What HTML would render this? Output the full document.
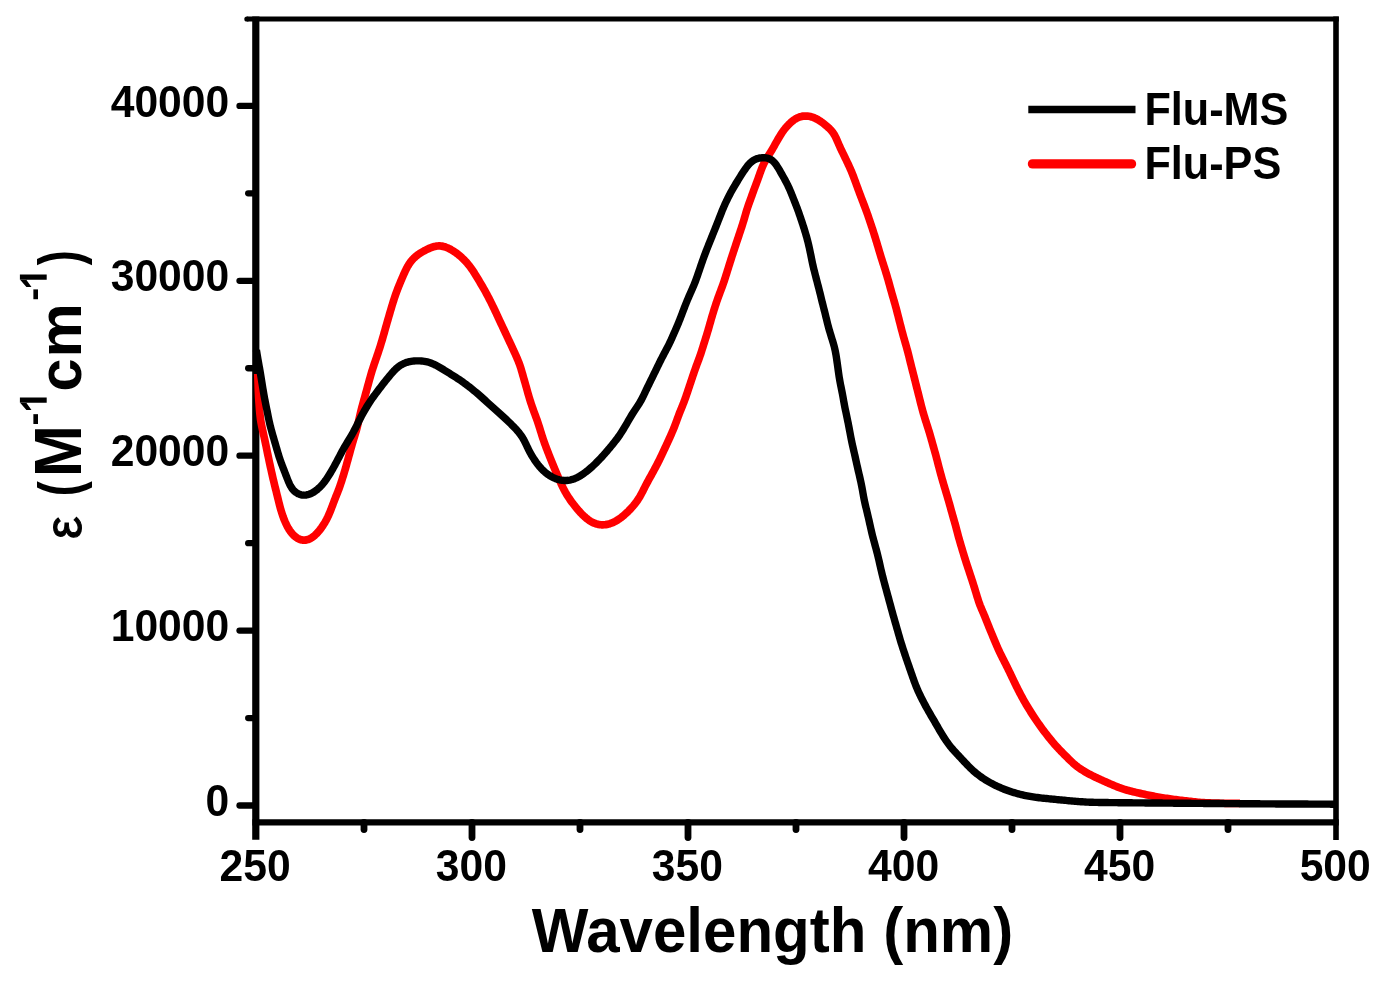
<!DOCTYPE html>
<html><head><meta charset="utf-8"><style>
html,body{margin:0;padding:0;background:#fff;width:1382px;height:987px;overflow:hidden}
svg{display:block;filter:blur(0.45px)}
text{font-family:"Liberation Sans",sans-serif;font-weight:bold;fill:#000}
</style></head><body>
<svg width="1382" height="987" viewBox="0 0 1382 987">
<rect width="1382" height="987" fill="#fff"/>
<g stroke="#000" stroke-linecap="butt" stroke-width="6.8">
<line x1="246.9" y1="19" x2="1338.8" y2="19" stroke-width="5.2"/>
<circle cx="246.9" cy="19" r="2.6" fill="#000" stroke="none"/>
<line x1="255.8" y1="16.4" x2="255.8" y2="839.8" stroke-width="7.2"/>
<line x1="1336" y1="16.4" x2="1336" y2="840" stroke-width="5.6"/>
<line x1="252.4" y1="822.4" x2="1338.8" y2="822.4" stroke-width="6.4"/>
<line x1="364.0" y1="822.4" x2="364.0" y2="829.5" stroke-linecap="round"/>
<line x1="472.0" y1="822.4" x2="472.0" y2="837.6" stroke-linecap="round"/>
<line x1="580.0" y1="822.4" x2="580.0" y2="829.5" stroke-linecap="round"/>
<line x1="688.0" y1="822.4" x2="688.0" y2="837.6" stroke-linecap="round"/>
<line x1="796.0" y1="822.4" x2="796.0" y2="829.5" stroke-linecap="round"/>
<line x1="904.0" y1="822.4" x2="904.0" y2="837.6" stroke-linecap="round"/>
<line x1="1012.0" y1="822.4" x2="1012.0" y2="829.5" stroke-linecap="round"/>
<line x1="1120.0" y1="822.4" x2="1120.0" y2="837.6" stroke-linecap="round"/>
<line x1="1228.0" y1="822.4" x2="1228.0" y2="829.5" stroke-linecap="round"/>
<line x1="255.8" y1="805.50" x2="239.5" y2="805.50" stroke-linecap="round" stroke-width="6.3"/>
<line x1="255.8" y1="718.05" x2="248.2" y2="718.05" stroke-linecap="round" stroke-width="6.3"/>
<line x1="255.8" y1="630.60" x2="239.5" y2="630.60" stroke-linecap="round" stroke-width="6.3"/>
<line x1="255.8" y1="543.15" x2="248.2" y2="543.15" stroke-linecap="round" stroke-width="6.3"/>
<line x1="255.8" y1="455.70" x2="239.5" y2="455.70" stroke-linecap="round" stroke-width="6.3"/>
<line x1="255.8" y1="368.25" x2="248.2" y2="368.25" stroke-linecap="round" stroke-width="6.3"/>
<line x1="255.8" y1="280.80" x2="239.5" y2="280.80" stroke-linecap="round" stroke-width="6.3"/>
<line x1="255.8" y1="193.35" x2="248.2" y2="193.35" stroke-linecap="round" stroke-width="6.3"/>
<line x1="255.8" y1="105.90" x2="239.5" y2="105.90" stroke-linecap="round" stroke-width="6.3"/>
</g>
<path d="M257.80,374.00 L257.90,377.20 L257.93,378.17 L257.97,379.27 L258.01,380.49 L258.05,381.79 L258.09,383.17 L258.14,384.59 L258.19,386.04 L258.24,387.52 L258.29,389.00 L258.35,390.50 L258.41,391.99 L258.48,393.49 L258.55,394.99 L258.63,396.48 L258.71,397.98 L258.81,399.48 L258.90,400.97 L259.00,402.47 L259.11,403.97 L259.22,405.46 L259.33,406.96 L259.44,408.45 L259.56,409.95 L259.69,411.44 L259.82,412.93 L259.97,414.42 L260.13,415.91 L260.30,417.40 L260.50,418.88 L260.71,420.36 L260.95,421.84 L261.21,423.31 L261.49,424.78 L261.78,426.25 L262.09,427.72 L262.40,429.19 L262.72,430.65 L263.05,432.11 L263.37,433.58 L263.70,435.04 L264.02,436.51 L264.34,437.97 L264.66,439.44 L264.97,440.90 L265.29,442.37 L265.60,443.84 L265.90,445.31 L266.21,446.78 L266.51,448.25 L266.81,449.72 L267.11,451.18 L267.41,452.65 L267.71,454.12 L268.02,455.59 L268.32,457.06 L268.63,458.53 L268.94,460.00 L269.25,461.46 L269.56,462.93 L269.88,464.40 L270.20,465.86 L270.52,467.33 L270.84,468.79 L271.17,470.26 L271.49,471.72 L271.82,473.19 L272.15,474.65 L272.48,476.11 L272.82,477.57 L273.16,479.03 L273.50,480.49 L273.85,481.95 L274.21,483.41 L274.56,484.87 L274.92,486.32 L275.28,487.78 L275.65,489.23 L276.01,490.69 L276.37,492.14 L276.73,493.60 L277.09,495.06 L277.45,496.51 L277.81,497.97 L278.16,499.43 L278.52,500.88 L278.88,502.34 L279.24,503.79 L279.61,505.25 L280.00,506.69 L280.39,508.14 L280.80,509.58 L281.22,511.02 L281.66,512.45 L282.12,513.88 L282.60,515.29 L283.09,516.71 L283.61,518.11 L284.15,519.50 L284.72,520.88 L285.31,522.25 L285.94,523.61 L286.58,524.95 L287.26,526.28 L287.97,527.58 L288.72,528.86 L289.50,530.12 L290.33,531.34 L291.21,532.51 L292.13,533.64 L293.11,534.72 L294.14,535.73 L295.23,536.67 L296.36,537.53 L297.54,538.28 L298.77,538.93 L300.03,539.45 L301.32,539.84 L302.64,540.08 L303.97,540.17 L305.30,540.11 L306.62,539.90 L307.93,539.54 L309.21,539.05 L310.47,538.44 L311.69,537.72 L312.86,536.92 L314.00,536.03 L315.10,535.07 L316.17,534.06 L317.19,533.00 L318.18,531.89 L319.13,530.76 L320.06,529.59 L320.95,528.40 L321.82,527.19 L322.66,525.96 L323.48,524.71 L324.27,523.45 L325.04,522.17 L325.78,520.87 L326.49,519.56 L327.16,518.23 L327.82,516.89 L328.44,515.53 L329.05,514.17 L329.64,512.79 L330.21,511.41 L330.76,510.01 L331.31,508.62 L331.85,507.22 L332.38,505.82 L332.90,504.41 L333.43,503.01 L333.96,501.61 L334.49,500.21 L335.03,498.81 L335.58,497.42 L336.13,496.02 L336.69,494.63 L337.25,493.24 L337.80,491.85 L338.34,490.45 L338.87,489.05 L339.39,487.65 L339.89,486.24 L340.38,484.82 L340.85,483.40 L341.32,481.97 L341.77,480.55 L342.22,479.12 L342.67,477.69 L343.12,476.25 L343.56,474.82 L344.00,473.39 L344.43,471.95 L344.86,470.51 L345.28,469.07 L345.69,467.63 L346.10,466.19 L346.50,464.75 L346.90,463.30 L347.30,461.85 L347.70,460.41 L348.09,458.96 L348.49,457.51 L348.88,456.07 L349.28,454.62 L349.68,453.17 L350.08,451.73 L350.48,450.28 L350.88,448.84 L351.29,447.39 L351.69,445.95 L352.11,444.51 L352.52,443.07 L352.95,441.63 L353.38,440.19 L353.81,438.76 L354.25,437.33 L354.69,435.89 L355.13,434.46 L355.56,433.02 L355.98,431.59 L356.39,430.15 L356.79,428.70 L357.16,427.25 L357.53,425.80 L357.88,424.34 L358.22,422.88 L358.55,421.42 L358.88,419.96 L359.20,418.50 L359.53,417.03 L359.87,415.57 L360.21,414.11 L360.56,412.66 L360.92,411.20 L361.28,409.75 L361.66,408.29 L362.04,406.84 L362.42,405.39 L362.81,403.94 L363.21,402.50 L363.60,401.05 L364.00,399.61 L364.40,398.16 L364.81,396.72 L365.21,395.27 L365.61,393.82 L366.01,392.38 L366.41,390.93 L366.81,389.49 L367.21,388.04 L367.60,386.59 L368.00,385.15 L368.39,383.70 L368.79,382.25 L369.19,380.81 L369.58,379.36 L369.98,377.92 L370.39,376.47 L370.80,375.03 L371.22,373.59 L371.64,372.15 L372.08,370.72 L372.53,369.29 L372.99,367.86 L373.45,366.44 L373.93,365.01 L374.41,363.59 L374.89,362.17 L375.38,360.76 L375.87,359.34 L376.36,357.92 L376.85,356.50 L377.33,355.08 L377.81,353.66 L378.29,352.24 L378.76,350.82 L379.23,349.39 L379.69,347.96 L380.14,346.54 L380.59,345.10 L381.03,343.67 L381.47,342.23 L381.90,340.80 L382.32,339.36 L382.74,337.92 L383.15,336.48 L383.57,335.04 L383.98,333.59 L384.38,332.15 L384.79,330.71 L385.20,329.26 L385.60,327.82 L386.01,326.37 L386.42,324.93 L386.83,323.49 L387.24,322.05 L387.66,320.60 L388.07,319.16 L388.49,317.72 L388.91,316.28 L389.32,314.84 L389.74,313.40 L390.17,311.96 L390.59,310.52 L391.01,309.08 L391.44,307.65 L391.87,306.21 L392.30,304.77 L392.74,303.34 L393.18,301.90 L393.63,300.47 L394.08,299.05 L394.55,297.62 L395.03,296.20 L395.52,294.78 L396.02,293.37 L396.53,291.96 L397.06,290.56 L397.59,289.16 L398.14,287.76 L398.69,286.37 L399.25,284.98 L399.82,283.59 L400.39,282.21 L400.97,280.82 L401.56,279.44 L402.15,278.06 L402.74,276.69 L403.34,275.31 L403.95,273.94 L404.57,272.58 L405.20,271.22 L405.85,269.87 L406.51,268.54 L407.20,267.22 L407.93,265.93 L408.69,264.66 L409.50,263.43 L410.35,262.22 L411.25,261.06 L412.20,259.93 L413.19,258.85 L414.23,257.81 L415.32,256.81 L416.45,255.86 L417.61,254.96 L418.81,254.09 L420.04,253.27 L421.30,252.48 L422.58,251.73 L423.88,251.00 L425.20,250.30 L426.53,249.63 L427.87,248.98 L429.22,248.37 L430.58,247.80 L431.95,247.27 L433.32,246.82 L434.70,246.44 L436.09,246.16 L437.49,245.98 L438.88,245.92 L440.29,245.97 L441.68,246.13 L443.08,246.40 L444.46,246.76 L445.83,247.22 L447.19,247.75 L448.53,248.35 L449.85,249.00 L451.15,249.71 L452.43,250.46 L453.69,251.25 L454.93,252.08 L456.15,252.94 L457.34,253.83 L458.51,254.75 L459.66,255.70 L460.79,256.68 L461.90,257.68 L462.98,258.70 L464.04,259.75 L465.08,260.83 L466.10,261.92 L467.09,263.04 L468.05,264.17 L469.00,265.33 L469.91,266.51 L470.80,267.71 L471.66,268.92 L472.51,270.16 L473.33,271.40 L474.14,272.66 L474.94,273.93 L475.72,275.21 L476.50,276.49 L477.28,277.77 L478.06,279.05 L478.83,280.34 L479.60,281.62 L480.37,282.91 L481.13,284.20 L481.89,285.50 L482.64,286.79 L483.39,288.09 L484.13,289.39 L484.87,290.70 L485.59,292.02 L486.31,293.33 L487.01,294.65 L487.72,295.98 L488.41,297.31 L489.10,298.64 L489.78,299.98 L490.46,301.31 L491.13,302.65 L491.80,304.00 L492.46,305.34 L493.12,306.69 L493.77,308.04 L494.42,309.39 L495.06,310.75 L495.70,312.11 L496.33,313.47 L496.96,314.83 L497.60,316.19 L498.23,317.55 L498.86,318.91 L499.50,320.27 L500.13,321.63 L500.77,322.98 L501.40,324.34 L502.04,325.70 L502.68,327.06 L503.31,328.42 L503.95,329.77 L504.59,331.13 L505.23,332.49 L505.86,333.85 L506.50,335.21 L507.13,336.57 L507.77,337.92 L508.41,339.28 L509.04,340.64 L509.68,342.00 L510.32,343.36 L510.95,344.72 L511.59,346.07 L512.22,347.43 L512.85,348.79 L513.48,350.15 L514.11,351.52 L514.73,352.88 L515.35,354.25 L515.96,355.62 L516.56,356.99 L517.15,358.37 L517.73,359.75 L518.29,361.14 L518.84,362.53 L519.37,363.93 L519.87,365.33 L520.36,366.75 L520.82,368.17 L521.25,369.60 L521.68,371.03 L522.09,372.47 L522.50,373.91 L522.90,375.35 L523.31,376.79 L523.72,378.23 L524.13,379.67 L524.55,381.11 L524.96,382.56 L525.38,384.00 L525.79,385.44 L526.20,386.88 L526.60,388.32 L527.01,389.77 L527.41,391.21 L527.81,392.66 L528.22,394.10 L528.63,395.54 L529.05,396.98 L529.48,398.42 L529.92,399.85 L530.37,401.28 L530.83,402.71 L531.30,404.13 L531.78,405.55 L532.27,406.97 L532.76,408.38 L533.27,409.80 L533.78,411.21 L534.30,412.61 L534.82,414.02 L535.34,415.42 L535.86,416.83 L536.38,418.24 L536.89,419.65 L537.38,421.06 L537.87,422.48 L538.35,423.90 L538.81,425.32 L539.26,426.75 L539.70,428.18 L540.14,429.62 L540.58,431.05 L541.02,432.48 L541.47,433.91 L541.92,435.34 L542.38,436.77 L542.85,438.19 L543.33,439.61 L543.82,441.03 L544.31,442.45 L544.81,443.86 L545.33,445.27 L545.85,446.68 L546.37,448.08 L546.90,449.48 L547.44,450.88 L547.99,452.28 L548.54,453.68 L549.09,455.07 L549.64,456.46 L550.20,457.86 L550.76,459.25 L551.32,460.64 L551.88,462.03 L552.45,463.42 L553.01,464.81 L553.58,466.20 L554.15,467.58 L554.73,468.97 L555.31,470.35 L555.89,471.73 L556.48,473.11 L557.07,474.49 L557.67,475.87 L558.27,477.24 L558.87,478.62 L559.47,479.99 L560.08,481.36 L560.69,482.73 L561.31,484.10 L561.93,485.45 L562.57,486.81 L563.23,488.15 L563.91,489.48 L564.61,490.80 L565.33,492.11 L566.08,493.40 L566.85,494.68 L567.64,495.95 L568.45,497.21 L569.28,498.46 L570.13,499.69 L570.99,500.92 L571.86,502.13 L572.75,503.33 L573.66,504.53 L574.58,505.71 L575.52,506.88 L576.46,508.04 L577.43,509.18 L578.40,510.32 L579.40,511.43 L580.41,512.54 L581.43,513.62 L582.48,514.68 L583.55,515.72 L584.64,516.74 L585.75,517.72 L586.89,518.67 L588.06,519.57 L589.25,520.43 L590.47,521.23 L591.73,521.97 L593.01,522.63 L594.33,523.22 L595.68,523.72 L597.06,524.12 L598.46,524.44 L599.87,524.66 L601.30,524.79 L602.74,524.82 L604.18,524.76 L605.62,524.61 L607.05,524.38 L608.46,524.06 L609.86,523.67 L611.25,523.20 L612.60,522.66 L613.94,522.05 L615.25,521.39 L616.53,520.66 L617.79,519.89 L619.02,519.07 L620.24,518.21 L621.43,517.31 L622.59,516.39 L623.74,515.43 L624.87,514.45 L625.98,513.45 L627.07,512.43 L628.14,511.39 L629.19,510.32 L630.22,509.24 L631.24,508.14 L632.23,507.03 L633.21,505.90 L634.16,504.75 L635.09,503.58 L636.00,502.39 L636.88,501.19 L637.73,499.96 L638.55,498.72 L639.34,497.45 L640.10,496.17 L640.83,494.87 L641.54,493.55 L642.24,492.23 L642.92,490.90 L643.59,489.56 L644.27,488.22 L644.94,486.88 L645.63,485.55 L646.32,484.22 L647.02,482.90 L647.73,481.57 L648.44,480.26 L649.17,478.94 L649.89,477.63 L650.62,476.32 L651.35,475.01 L652.07,473.70 L652.80,472.38 L653.52,471.07 L654.23,469.75 L654.94,468.43 L655.65,467.11 L656.35,465.78 L657.04,464.45 L657.73,463.12 L658.41,461.78 L659.08,460.44 L659.74,459.10 L660.40,457.75 L661.05,456.40 L661.70,455.04 L662.34,453.69 L662.97,452.33 L663.61,450.97 L664.24,449.61 L664.88,448.25 L665.51,446.89 L666.14,445.53 L666.77,444.17 L667.40,442.81 L668.03,441.45 L668.66,440.08 L669.28,438.72 L669.89,437.35 L670.51,435.98 L671.11,434.61 L671.71,433.24 L672.30,431.86 L672.89,430.48 L673.46,429.09 L674.02,427.70 L674.57,426.31 L675.11,424.91 L675.64,423.51 L676.16,422.10 L676.67,420.70 L677.19,419.29 L677.70,417.88 L678.22,416.48 L678.75,415.07 L679.28,413.68 L679.83,412.28 L680.39,410.89 L680.95,409.50 L681.52,408.11 L682.08,406.73 L682.64,405.34 L683.19,403.94 L683.74,402.55 L684.27,401.14 L684.79,399.74 L685.30,398.33 L685.80,396.92 L686.29,395.50 L686.78,394.08 L687.26,392.66 L687.74,391.24 L688.21,389.82 L688.69,388.39 L689.16,386.97 L689.63,385.55 L690.11,384.12 L690.58,382.70 L691.05,381.28 L691.53,379.86 L692.00,378.43 L692.48,377.01 L692.96,375.59 L693.44,374.17 L693.92,372.75 L694.41,371.33 L694.91,369.92 L695.41,368.50 L695.92,367.09 L696.43,365.68 L696.95,364.28 L697.47,362.87 L698.00,361.47 L698.52,360.06 L699.03,358.65 L699.54,357.24 L700.04,355.83 L700.52,354.41 L701.00,352.99 L701.46,351.57 L701.92,350.14 L702.37,348.71 L702.81,347.28 L703.26,345.85 L703.70,344.41 L704.15,342.98 L704.60,341.55 L705.06,340.12 L705.51,338.69 L705.96,337.26 L706.41,335.83 L706.85,334.40 L707.29,332.96 L707.71,331.53 L708.14,330.09 L708.55,328.65 L708.96,327.21 L709.37,325.76 L709.78,324.32 L710.19,322.88 L710.60,321.43 L711.01,319.99 L711.42,318.55 L711.84,317.11 L712.26,315.67 L712.69,314.23 L713.13,312.80 L713.56,311.36 L714.01,309.93 L714.46,308.50 L714.91,307.07 L715.38,305.65 L715.85,304.22 L716.32,302.80 L716.80,301.38 L717.29,299.96 L717.79,298.55 L718.30,297.14 L718.81,295.73 L719.33,294.32 L719.85,292.91 L720.38,291.51 L720.91,290.11 L721.43,288.70 L721.95,287.30 L722.47,285.89 L722.97,284.48 L723.47,283.06 L723.95,281.65 L724.43,280.22 L724.90,278.80 L725.36,277.37 L725.81,275.94 L726.26,274.51 L726.71,273.08 L727.16,271.65 L727.60,270.22 L728.05,268.78 L728.49,267.35 L728.94,265.92 L729.39,264.49 L729.83,263.06 L730.28,261.63 L730.74,260.20 L731.19,258.77 L731.65,257.34 L732.11,255.91 L732.58,254.49 L733.04,253.06 L733.51,251.64 L733.99,250.21 L734.46,248.79 L734.93,247.37 L735.41,245.94 L735.88,244.52 L736.36,243.10 L736.83,241.67 L737.30,240.25 L737.77,238.83 L738.25,237.40 L738.72,235.98 L739.19,234.56 L739.67,233.13 L740.14,231.71 L740.61,230.28 L741.08,228.86 L741.55,227.44 L742.01,226.01 L742.47,224.58 L742.92,223.15 L743.36,221.72 L743.79,220.28 L744.22,218.85 L744.64,217.41 L745.05,215.97 L745.47,214.53 L745.88,213.09 L746.31,211.65 L746.74,210.22 L747.19,208.79 L747.66,207.37 L748.13,205.95 L748.63,204.53 L749.13,203.12 L749.63,201.71 L750.15,200.30 L750.66,198.89 L751.17,197.48 L751.68,196.07 L752.18,194.66 L752.69,193.25 L753.20,191.84 L753.71,190.43 L754.23,189.03 L754.75,187.62 L755.27,186.22 L755.80,184.81 L756.33,183.41 L756.85,182.00 L757.37,180.60 L757.88,179.19 L758.39,177.78 L758.89,176.37 L759.39,174.95 L759.89,173.54 L760.40,172.13 L760.91,170.72 L761.44,169.32 L761.98,167.93 L762.55,166.55 L763.14,165.18 L763.76,163.83 L764.42,162.50 L765.11,161.18 L765.84,159.88 L766.59,158.59 L767.36,157.31 L768.14,156.04 L768.94,154.77 L769.73,153.50 L770.52,152.23 L771.30,150.95 L772.07,149.67 L772.83,148.38 L773.57,147.08 L774.31,145.77 L775.04,144.47 L775.77,143.16 L776.50,141.85 L777.24,140.54 L777.98,139.24 L778.73,137.95 L779.50,136.66 L780.28,135.38 L781.08,134.12 L781.90,132.88 L782.75,131.65 L783.62,130.44 L784.53,129.26 L785.46,128.10 L786.42,126.96 L787.42,125.85 L788.44,124.77 L789.49,123.72 L790.56,122.70 L791.67,121.73 L792.81,120.79 L793.99,119.92 L795.20,119.11 L796.44,118.38 L797.72,117.73 L799.04,117.18 L800.39,116.73 L801.77,116.39 L803.17,116.15 L804.58,116.03 L806.01,116.01 L807.44,116.09 L808.86,116.28 L810.28,116.56 L811.68,116.94 L813.06,117.39 L814.42,117.92 L815.75,118.53 L817.06,119.20 L818.34,119.93 L819.60,120.71 L820.84,121.53 L822.05,122.39 L823.25,123.28 L824.42,124.20 L825.58,125.14 L826.72,126.10 L827.83,127.08 L828.92,128.09 L829.96,129.13 L830.97,130.19 L831.92,131.30 L832.81,132.44 L833.63,133.62 L834.40,134.85 L835.10,136.12 L835.75,137.42 L836.37,138.75 L836.96,140.10 L837.54,141.46 L838.12,142.83 L838.71,144.20 L839.31,145.56 L839.93,146.92 L840.55,148.28 L841.19,149.63 L841.84,150.99 L842.49,152.34 L843.14,153.69 L843.80,155.04 L844.45,156.39 L845.10,157.74 L845.76,159.09 L846.41,160.44 L847.05,161.79 L847.70,163.15 L848.33,164.50 L848.97,165.86 L849.59,167.23 L850.20,168.59 L850.80,169.97 L851.38,171.35 L851.95,172.73 L852.51,174.12 L853.06,175.52 L853.59,176.92 L854.12,178.32 L854.64,179.73 L855.16,181.13 L855.68,182.54 L856.19,183.95 L856.71,185.36 L857.22,186.77 L857.74,188.18 L858.26,189.58 L858.78,190.99 L859.30,192.40 L859.82,193.80 L860.35,195.21 L860.88,196.61 L861.41,198.01 L861.95,199.41 L862.49,200.81 L863.03,202.21 L863.56,203.61 L864.10,205.01 L864.64,206.41 L865.17,207.82 L865.69,209.22 L866.21,210.63 L866.72,212.04 L867.23,213.45 L867.72,214.86 L868.21,216.28 L868.70,217.70 L869.18,219.12 L869.66,220.54 L870.14,221.96 L870.61,223.39 L871.09,224.81 L871.56,226.23 L872.03,227.66 L872.50,229.08 L872.96,230.51 L873.42,231.94 L873.88,233.36 L874.34,234.79 L874.79,236.22 L875.23,237.66 L875.68,239.09 L876.11,240.52 L876.55,241.96 L876.98,243.40 L877.41,244.83 L877.83,246.27 L878.26,247.71 L878.68,249.15 L879.11,250.59 L879.53,252.03 L879.96,253.46 L880.40,254.90 L880.84,256.33 L881.28,257.77 L881.73,259.20 L882.18,260.63 L882.63,262.06 L883.09,263.49 L883.54,264.91 L884.00,266.34 L884.45,267.77 L884.90,269.20 L885.35,270.63 L885.79,272.07 L886.23,273.50 L886.67,274.94 L887.10,276.37 L887.52,277.81 L887.94,279.25 L888.36,280.69 L888.76,282.14 L889.17,283.58 L889.57,285.03 L889.97,286.47 L890.36,287.92 L890.76,289.36 L891.16,290.81 L891.57,292.25 L891.98,293.70 L892.39,295.14 L892.81,296.58 L893.23,298.02 L893.65,299.46 L894.07,300.90 L894.48,302.34 L894.89,303.78 L895.30,305.22 L895.69,306.67 L896.08,308.12 L896.47,309.57 L896.85,311.02 L897.22,312.47 L897.60,313.92 L897.97,315.38 L898.34,316.83 L898.70,318.29 L899.07,319.74 L899.44,321.19 L899.81,322.65 L900.18,324.10 L900.56,325.55 L900.93,327.01 L901.31,328.46 L901.69,329.91 L902.07,331.36 L902.46,332.81 L902.85,334.26 L903.25,335.70 L903.65,337.15 L904.05,338.59 L904.46,340.03 L904.88,341.47 L905.29,342.92 L905.71,344.36 L906.12,345.80 L906.53,347.24 L906.93,348.68 L907.33,350.13 L907.71,351.58 L908.09,353.03 L908.46,354.48 L908.82,355.94 L909.18,357.39 L909.53,358.85 L909.89,360.31 L910.25,361.76 L910.61,363.22 L910.97,364.68 L911.34,366.13 L911.71,367.58 L912.08,369.04 L912.45,370.49 L912.82,371.94 L913.20,373.40 L913.57,374.85 L913.93,376.30 L914.30,377.76 L914.66,379.21 L915.03,380.67 L915.39,382.12 L915.76,383.58 L916.12,385.03 L916.49,386.49 L916.86,387.94 L917.23,389.39 L917.60,390.85 L917.97,392.30 L918.33,393.76 L918.70,395.21 L919.06,396.67 L919.43,398.12 L919.79,399.58 L920.15,401.03 L920.51,402.49 L920.88,403.94 L921.25,405.39 L921.63,406.85 L922.01,408.30 L922.40,409.74 L922.80,411.19 L923.21,412.63 L923.63,414.07 L924.06,415.51 L924.49,416.94 L924.93,418.38 L925.37,419.81 L925.82,421.24 L926.28,422.67 L926.73,424.10 L927.19,425.53 L927.65,426.95 L928.10,428.38 L928.55,429.81 L929.00,431.25 L929.43,432.68 L929.86,434.12 L930.28,435.56 L930.69,437.00 L931.10,438.44 L931.50,439.89 L931.90,441.33 L932.31,442.78 L932.71,444.22 L933.12,445.66 L933.52,447.11 L933.93,448.55 L934.34,449.99 L934.75,451.44 L935.16,452.88 L935.55,454.32 L935.95,455.77 L936.34,457.22 L936.72,458.67 L937.10,460.12 L937.47,461.57 L937.84,463.03 L938.22,464.48 L938.59,465.93 L938.97,467.38 L939.35,468.83 L939.73,470.28 L940.12,471.73 L940.51,473.18 L940.91,474.63 L941.31,476.07 L941.71,477.52 L942.12,478.96 L942.54,480.40 L942.95,481.84 L943.37,483.28 L943.79,484.72 L944.22,486.16 L944.65,487.60 L945.07,489.04 L945.50,490.47 L945.93,491.91 L946.37,493.35 L946.79,494.78 L947.22,496.22 L947.65,497.66 L948.07,499.10 L948.49,500.54 L948.91,501.98 L949.32,503.42 L949.72,504.87 L950.13,506.31 L950.53,507.76 L950.93,509.20 L951.33,510.65 L951.73,512.09 L952.14,513.53 L952.54,514.98 L952.96,516.42 L953.37,517.86 L953.79,519.30 L954.20,520.74 L954.61,522.18 L955.02,523.63 L955.42,525.07 L955.81,526.52 L956.20,527.97 L956.58,529.42 L956.95,530.87 L957.33,532.32 L957.71,533.77 L958.09,535.22 L958.48,536.67 L958.88,538.11 L959.29,539.56 L959.70,541.00 L960.12,542.44 L960.54,543.88 L960.97,545.31 L961.40,546.75 L961.83,548.19 L962.26,549.62 L962.69,551.06 L963.12,552.50 L963.56,553.93 L963.99,555.37 L964.43,556.80 L964.88,558.23 L965.32,559.67 L965.78,561.10 L966.23,562.52 L966.70,563.95 L967.16,565.38 L967.63,566.80 L968.10,568.23 L968.57,569.65 L969.05,571.07 L969.52,572.50 L969.99,573.92 L970.46,575.34 L970.93,576.77 L971.40,578.19 L971.87,579.62 L972.33,581.05 L972.79,582.47 L973.24,583.90 L973.69,585.33 L974.14,586.77 L974.58,588.20 L975.02,589.63 L975.46,591.07 L975.89,592.50 L976.32,593.94 L976.76,595.38 L977.19,596.81 L977.63,598.24 L978.09,599.67 L978.55,601.09 L979.03,602.50 L979.54,603.91 L980.06,605.31 L980.61,606.69 L981.18,608.07 L981.76,609.45 L982.36,610.82 L982.95,612.19 L983.54,613.56 L984.13,614.94 L984.71,616.32 L985.27,617.71 L985.83,619.10 L986.38,620.49 L986.93,621.88 L987.48,623.28 L988.03,624.67 L988.59,626.06 L989.15,627.45 L989.72,628.84 L990.29,630.23 L990.86,631.62 L991.44,633.00 L992.02,634.38 L992.59,635.77 L993.17,637.15 L993.75,638.54 L994.32,639.92 L994.90,641.31 L995.48,642.69 L996.06,644.07 L996.65,645.45 L997.24,646.83 L997.85,648.20 L998.47,649.56 L999.09,650.92 L999.73,652.28 L1000.38,653.63 L1001.04,654.98 L1001.71,656.32 L1002.38,657.66 L1003.05,659.00 L1003.73,660.34 L1004.41,661.68 L1005.08,663.02 L1005.76,664.36 L1006.43,665.70 L1007.10,667.04 L1007.77,668.38 L1008.43,669.73 L1009.09,671.08 L1009.74,672.43 L1010.39,673.78 L1011.04,675.13 L1011.69,676.48 L1012.33,677.84 L1012.98,679.19 L1013.62,680.54 L1014.27,681.90 L1014.92,683.25 L1015.58,684.60 L1016.24,685.94 L1016.90,687.29 L1017.58,688.63 L1018.25,689.97 L1018.94,691.30 L1019.63,692.63 L1020.32,693.96 L1021.03,695.28 L1021.74,696.60 L1022.46,697.92 L1023.18,699.23 L1023.92,700.54 L1024.66,701.84 L1025.41,703.14 L1026.17,704.43 L1026.94,705.72 L1027.71,707.01 L1028.49,708.29 L1029.27,709.57 L1030.06,710.84 L1030.85,712.12 L1031.65,713.38 L1032.46,714.65 L1033.28,715.90 L1034.10,717.15 L1034.94,718.40 L1035.78,719.64 L1036.63,720.88 L1037.48,722.11 L1038.33,723.34 L1039.20,724.57 L1040.06,725.79 L1040.94,727.01 L1041.82,728.22 L1042.71,729.43 L1043.60,730.63 L1044.51,731.83 L1045.42,733.02 L1046.34,734.20 L1047.26,735.38 L1048.19,736.56 L1049.13,737.73 L1050.07,738.90 L1051.02,740.06 L1051.98,741.21 L1052.94,742.36 L1053.91,743.50 L1054.89,744.64 L1055.88,745.76 L1056.89,746.87 L1057.91,747.97 L1058.93,749.06 L1059.97,750.14 L1061.01,751.22 L1062.06,752.29 L1063.11,753.36 L1064.16,754.43 L1065.22,755.49 L1066.28,756.56 L1067.34,757.61 L1068.41,758.67 L1069.48,759.72 L1070.55,760.76 L1071.64,761.78 L1072.74,762.80 L1073.86,763.79 L1074.99,764.76 L1076.14,765.70 L1077.32,766.62 L1078.51,767.51 L1079.73,768.38 L1080.96,769.22 L1082.21,770.04 L1083.48,770.83 L1084.76,771.61 L1086.05,772.36 L1087.36,773.09 L1088.67,773.81 L1089.99,774.51 L1091.32,775.20 L1092.66,775.87 L1094.01,776.54 L1095.36,777.19 L1096.71,777.84 L1098.07,778.48 L1099.43,779.11 L1100.79,779.73 L1102.16,780.35 L1103.52,780.96 L1104.90,781.57 L1106.27,782.16 L1107.65,782.76 L1109.02,783.35 L1110.40,783.94 L1111.78,784.53 L1113.16,785.11 L1114.53,785.69 L1115.91,786.27 L1117.29,786.84 L1118.67,787.39 L1120.07,787.91 L1121.47,788.42 L1122.88,788.90 L1124.30,789.35 L1125.73,789.78 L1127.16,790.18 L1128.61,790.57 L1130.06,790.95 L1131.51,791.31 L1132.96,791.67 L1134.42,792.02 L1135.88,792.37 L1137.34,792.71 L1138.80,793.04 L1140.27,793.37 L1141.73,793.70 L1143.20,794.02 L1144.66,794.34 L1146.13,794.65 L1147.60,794.96 L1149.06,795.27 L1150.53,795.57 L1152.00,795.86 L1153.48,796.15 L1154.95,796.42 L1156.42,796.70 L1157.90,796.96 L1159.38,797.22 L1160.86,797.47 L1162.34,797.72 L1163.82,797.96 L1165.30,798.19 L1166.78,798.42 L1168.26,798.65 L1169.75,798.87 L1171.23,799.08 L1172.71,799.29 L1174.20,799.49 L1175.69,799.68 L1177.18,799.87 L1178.67,800.05 L1180.15,800.23 L1181.64,800.40 L1183.13,800.58 L1184.62,800.75 L1186.11,800.93 L1187.60,801.10 L1189.09,801.28 L1190.58,801.45 L1192.07,801.62 L1193.56,801.78 L1195.05,801.94 L1196.55,802.09 L1198.04,802.23 L1199.53,802.36 L1201.02,802.48 L1202.52,802.59 L1204.02,802.68 L1205.51,802.77 L1207.01,802.84 L1208.51,802.91 L1210.01,802.97 L1211.50,803.02 L1213.00,803.07 L1214.50,803.11 L1216.00,803.15 L1217.50,803.18 L1219.00,803.20 L1220.50,803.23 L1222.00,803.24 L1223.50,803.26 L1224.99,803.28 L1226.48,803.29 L1227.95,803.30 L1229.41,803.31 L1230.83,803.33 L1232.20,803.34 L1233.51,803.35 L1234.72,803.36 L1235.82,803.37 L1236.79,803.37 L1240.00,803.40" fill="none" stroke="#ff0000" stroke-width="7.7" stroke-linejoin="round" stroke-linecap="butt"/>
<path d="M256.40,350.00 L256.90,353.17 L257.05,354.13 L257.23,355.21 L257.44,356.41 L257.66,357.70 L257.90,359.05 L258.15,360.45 L258.41,361.89 L258.67,363.34 L258.93,364.80 L259.19,366.27 L259.45,367.75 L259.71,369.23 L259.97,370.71 L260.22,372.19 L260.47,373.67 L260.71,375.15 L260.95,376.63 L261.20,378.11 L261.44,379.59 L261.68,381.07 L261.92,382.55 L262.15,384.04 L262.39,385.52 L262.63,387.00 L262.87,388.48 L263.12,389.96 L263.36,391.44 L263.62,392.92 L263.88,394.40 L264.14,395.88 L264.41,397.35 L264.69,398.83 L264.97,400.30 L265.26,401.78 L265.55,403.25 L265.84,404.72 L266.14,406.19 L266.44,407.66 L266.73,409.14 L267.03,410.61 L267.32,412.08 L267.62,413.55 L267.91,415.02 L268.21,416.49 L268.51,417.96 L268.82,419.43 L269.13,420.90 L269.45,422.37 L269.79,423.83 L270.13,425.29 L270.49,426.74 L270.86,428.20 L271.24,429.65 L271.64,431.09 L272.04,432.54 L272.45,433.98 L272.87,435.42 L273.28,436.87 L273.70,438.31 L274.12,439.75 L274.54,441.19 L274.96,442.63 L275.38,444.07 L275.79,445.52 L276.21,446.96 L276.63,448.40 L277.05,449.84 L277.47,451.28 L277.90,452.72 L278.33,454.16 L278.77,455.59 L279.22,457.02 L279.68,458.44 L280.16,459.86 L280.66,461.28 L281.16,462.69 L281.68,464.10 L282.21,465.50 L282.74,466.90 L283.28,468.30 L283.82,469.70 L284.36,471.10 L284.90,472.50 L285.44,473.90 L285.98,475.30 L286.52,476.70 L287.06,478.10 L287.61,479.49 L288.17,480.88 L288.75,482.25 L289.35,483.60 L289.98,484.92 L290.65,486.20 L291.38,487.43 L292.18,488.61 L293.04,489.71 L293.99,490.73 L295.01,491.66 L296.11,492.50 L297.27,493.24 L298.48,493.87 L299.75,494.38 L301.04,494.77 L302.37,495.02 L303.71,495.14 L305.06,495.12 L306.41,494.97 L307.76,494.68 L309.10,494.29 L310.42,493.78 L311.72,493.18 L312.99,492.50 L314.23,491.74 L315.43,490.91 L316.60,490.03 L317.74,489.09 L318.84,488.11 L319.90,487.08 L320.94,486.02 L321.94,484.92 L322.90,483.79 L323.84,482.63 L324.75,481.45 L325.63,480.25 L326.49,479.02 L327.33,477.78 L328.15,476.53 L328.95,475.27 L329.74,473.99 L330.52,472.71 L331.28,471.42 L332.03,470.12 L332.78,468.82 L333.51,467.51 L334.24,466.20 L334.96,464.88 L335.67,463.56 L336.38,462.24 L337.08,460.91 L337.78,459.59 L338.48,458.26 L339.17,456.93 L339.87,455.60 L340.56,454.27 L341.26,452.94 L341.97,451.62 L342.69,450.30 L343.42,448.99 L344.16,447.69 L344.91,446.39 L345.67,445.10 L346.44,443.81 L347.22,442.52 L348.00,441.24 L348.77,439.96 L349.55,438.68 L350.32,437.39 L351.09,436.10 L351.84,434.80 L352.58,433.50 L353.31,432.19 L354.02,430.87 L354.71,429.54 L355.40,428.21 L356.07,426.87 L356.74,425.53 L357.40,424.18 L358.07,422.83 L358.73,421.49 L359.40,420.14 L360.07,418.81 L360.76,417.47 L361.46,416.14 L362.16,414.82 L362.88,413.50 L363.61,412.19 L364.35,410.89 L365.10,409.59 L365.86,408.29 L366.62,407.01 L367.40,405.72 L368.19,404.45 L369.00,403.19 L369.82,401.93 L370.65,400.68 L371.50,399.45 L372.36,398.22 L373.23,397.00 L374.11,395.79 L375.00,394.58 L375.89,393.37 L376.79,392.17 L377.69,390.97 L378.60,389.77 L379.51,388.58 L380.42,387.39 L381.34,386.20 L382.26,385.01 L383.18,383.83 L384.11,382.65 L385.04,381.48 L385.98,380.30 L386.92,379.13 L387.86,377.97 L388.81,376.81 L389.77,375.65 L390.73,374.50 L391.70,373.36 L392.68,372.24 L393.68,371.14 L394.70,370.07 L395.75,369.03 L396.83,368.04 L397.95,367.11 L399.11,366.23 L400.31,365.42 L401.56,364.68 L402.85,364.00 L404.17,363.39 L405.53,362.84 L406.91,362.36 L408.31,361.94 L409.73,361.59 L411.16,361.31 L412.61,361.09 L414.07,360.95 L415.54,360.86 L417.01,360.83 L418.49,360.84 L419.97,360.90 L421.45,361.00 L422.92,361.15 L424.38,361.35 L425.83,361.61 L427.26,361.92 L428.68,362.30 L430.08,362.74 L431.46,363.25 L432.83,363.81 L434.18,364.41 L435.51,365.06 L436.84,365.75 L438.15,366.46 L439.45,367.20 L440.74,367.95 L442.03,368.72 L443.31,369.50 L444.59,370.29 L445.86,371.08 L447.13,371.88 L448.40,372.68 L449.67,373.48 L450.94,374.28 L452.21,375.08 L453.48,375.88 L454.75,376.68 L456.02,377.48 L457.28,378.29 L458.54,379.11 L459.79,379.94 L461.03,380.78 L462.26,381.63 L463.48,382.50 L464.70,383.38 L465.90,384.27 L467.10,385.17 L468.29,386.09 L469.47,387.01 L470.65,387.94 L471.82,388.87 L472.99,389.82 L474.15,390.77 L475.30,391.73 L476.45,392.69 L477.59,393.67 L478.73,394.65 L479.86,395.64 L480.98,396.63 L482.10,397.63 L483.22,398.63 L484.34,399.63 L485.46,400.63 L486.57,401.64 L487.69,402.64 L488.81,403.64 L489.93,404.64 L491.05,405.64 L492.17,406.64 L493.29,407.64 L494.41,408.64 L495.53,409.64 L496.64,410.64 L497.76,411.65 L498.87,412.66 L499.98,413.67 L501.08,414.69 L502.18,415.71 L503.28,416.73 L504.38,417.75 L505.47,418.78 L506.56,419.81 L507.65,420.85 L508.73,421.89 L509.81,422.93 L510.88,423.98 L511.95,425.03 L513.01,426.09 L514.06,427.16 L515.10,428.24 L516.12,429.34 L517.12,430.45 L518.10,431.58 L519.05,432.72 L519.96,433.90 L520.84,435.09 L521.68,436.32 L522.48,437.57 L523.24,438.84 L523.97,440.14 L524.66,441.46 L525.32,442.79 L525.97,444.14 L526.60,445.49 L527.24,446.84 L527.88,448.19 L528.54,449.53 L529.22,450.87 L529.91,452.19 L530.63,453.50 L531.37,454.80 L532.13,456.09 L532.91,457.37 L533.71,458.64 L534.53,459.89 L535.37,461.12 L536.23,462.34 L537.12,463.54 L538.03,464.73 L538.97,465.89 L539.93,467.03 L540.92,468.15 L541.93,469.23 L542.98,470.29 L544.05,471.30 L545.17,472.28 L546.31,473.22 L547.49,474.11 L548.70,474.96 L549.95,475.76 L551.22,476.50 L552.53,477.20 L553.85,477.85 L555.21,478.43 L556.58,478.95 L557.97,479.41 L559.38,479.78 L560.81,480.09 L562.24,480.30 L563.69,480.44 L565.14,480.48 L566.59,480.44 L568.04,480.31 L569.47,480.09 L570.90,479.80 L572.31,479.42 L573.71,478.97 L575.08,478.45 L576.43,477.87 L577.76,477.22 L579.06,476.52 L580.34,475.78 L581.60,474.98 L582.84,474.15 L584.05,473.29 L585.25,472.40 L586.43,471.49 L587.60,470.55 L588.76,469.59 L589.90,468.62 L591.02,467.64 L592.14,466.64 L593.24,465.62 L594.34,464.59 L595.42,463.56 L596.49,462.51 L597.55,461.45 L598.60,460.37 L599.64,459.29 L600.67,458.20 L601.69,457.11 L602.70,456.00 L603.70,454.88 L604.70,453.76 L605.69,452.63 L606.67,451.49 L607.64,450.35 L608.61,449.21 L609.58,448.06 L610.54,446.91 L611.49,445.75 L612.44,444.59 L613.39,443.42 L614.32,442.25 L615.25,441.07 L616.17,439.88 L617.07,438.69 L617.95,437.48 L618.82,436.26 L619.68,435.03 L620.51,433.79 L621.33,432.53 L622.13,431.27 L622.92,429.99 L623.70,428.71 L624.47,427.43 L625.24,426.14 L626.00,424.84 L626.76,423.55 L627.51,422.25 L628.26,420.95 L629.02,419.65 L629.77,418.36 L630.53,417.06 L631.30,415.77 L632.07,414.49 L632.86,413.22 L633.66,411.95 L634.48,410.70 L635.30,409.45 L636.14,408.21 L636.97,406.97 L637.80,405.73 L638.61,404.48 L639.41,403.22 L640.18,401.95 L640.92,400.65 L641.64,399.35 L642.33,398.02 L642.99,396.69 L643.65,395.34 L644.29,393.99 L644.93,392.63 L645.57,391.28 L646.21,389.92 L646.85,388.56 L647.50,387.21 L648.16,385.86 L648.82,384.51 L649.48,383.17 L650.14,381.82 L650.81,380.47 L651.47,379.13 L652.14,377.78 L652.80,376.44 L653.46,375.09 L654.12,373.74 L654.78,372.39 L655.44,371.04 L656.10,369.69 L656.75,368.34 L657.41,366.99 L658.06,365.64 L658.72,364.29 L659.38,362.94 L660.04,361.60 L660.71,360.25 L661.38,358.91 L662.07,357.58 L662.76,356.24 L663.45,354.92 L664.15,353.59 L664.86,352.26 L665.56,350.94 L666.27,349.62 L666.97,348.29 L667.66,346.96 L668.34,345.62 L669.00,344.28 L669.66,342.93 L670.30,341.57 L670.94,340.22 L671.56,338.85 L672.18,337.48 L672.79,336.11 L673.39,334.74 L674.00,333.36 L674.60,331.99 L675.20,330.61 L675.79,329.24 L676.39,327.86 L676.97,326.48 L677.56,325.09 L678.14,323.71 L678.71,322.32 L679.27,320.93 L679.83,319.54 L680.37,318.14 L680.91,316.74 L681.45,315.34 L681.98,313.93 L682.51,312.53 L683.04,311.13 L683.58,309.72 L684.11,308.32 L684.66,306.92 L685.20,305.53 L685.76,304.13 L686.31,302.74 L686.88,301.35 L687.45,299.96 L688.03,298.58 L688.62,297.20 L689.22,295.82 L689.82,294.44 L690.43,293.07 L691.04,291.70 L691.65,290.33 L692.25,288.96 L692.85,287.59 L693.44,286.21 L694.02,284.82 L694.58,283.43 L695.12,282.04 L695.66,280.64 L696.17,279.23 L696.68,277.82 L697.18,276.40 L697.68,274.99 L698.17,273.57 L698.65,272.15 L699.14,270.73 L699.62,269.31 L700.11,267.89 L700.59,266.47 L701.08,265.05 L701.57,263.63 L702.06,262.21 L702.56,260.79 L703.06,259.38 L703.57,257.97 L704.08,256.56 L704.61,255.15 L705.13,253.75 L705.67,252.34 L706.21,250.94 L706.75,249.54 L707.30,248.15 L707.85,246.75 L708.41,245.36 L708.96,243.96 L709.52,242.57 L710.08,241.17 L710.64,239.78 L711.20,238.39 L711.76,237.00 L712.32,235.60 L712.88,234.21 L713.44,232.82 L714.00,231.43 L714.56,230.03 L715.12,228.64 L715.68,227.25 L716.24,225.85 L716.79,224.46 L717.34,223.06 L717.89,221.67 L718.44,220.27 L718.98,218.87 L719.53,217.47 L720.07,216.07 L720.62,214.67 L721.17,213.28 L721.72,211.88 L722.28,210.49 L722.85,209.10 L723.44,207.72 L724.03,206.34 L724.64,204.97 L725.25,203.61 L725.89,202.25 L726.53,200.89 L727.18,199.54 L727.85,198.20 L728.52,196.86 L729.21,195.52 L729.90,194.19 L730.61,192.87 L731.33,191.55 L732.05,190.24 L732.79,188.93 L733.54,187.63 L734.29,186.33 L735.06,185.04 L735.83,183.75 L736.60,182.47 L737.39,181.19 L738.18,179.91 L738.97,178.64 L739.77,177.37 L740.57,176.10 L741.37,174.83 L742.18,173.57 L743.00,172.31 L743.82,171.06 L744.66,169.82 L745.51,168.59 L746.38,167.38 L747.28,166.20 L748.21,165.06 L749.18,163.97 L750.19,162.93 L751.26,161.97 L752.38,161.09 L753.55,160.31 L754.79,159.63 L756.07,159.06 L757.40,158.59 L758.77,158.23 L760.17,157.98 L761.58,157.82 L763.01,157.75 L764.43,157.79 L765.82,157.92 L767.19,158.17 L768.50,158.54 L769.76,159.03 L770.95,159.65 L772.08,160.40 L773.13,161.27 L774.11,162.25 L775.03,163.32 L775.90,164.46 L776.73,165.65 L777.53,166.89 L778.31,168.15 L779.07,169.44 L779.82,170.73 L780.57,172.03 L781.31,173.34 L782.04,174.64 L782.78,175.95 L783.51,177.26 L784.24,178.57 L784.96,179.89 L785.67,181.21 L786.37,182.53 L787.05,183.87 L787.72,185.21 L788.36,186.56 L788.99,187.92 L789.60,189.28 L790.19,190.66 L790.77,192.04 L791.34,193.43 L791.91,194.82 L792.46,196.21 L793.02,197.60 L793.58,199.00 L794.13,200.39 L794.69,201.79 L795.24,203.18 L795.79,204.58 L796.33,205.98 L796.86,207.38 L797.39,208.79 L797.91,210.20 L798.42,211.61 L798.92,213.02 L799.41,214.44 L799.90,215.86 L800.39,217.28 L800.87,218.70 L801.34,220.12 L801.82,221.55 L802.29,222.97 L802.76,224.40 L803.22,225.83 L803.68,227.25 L804.14,228.68 L804.58,230.12 L805.02,231.55 L805.46,232.99 L805.88,234.43 L806.29,235.87 L806.70,237.31 L807.09,238.76 L807.48,240.21 L807.85,241.66 L808.22,243.12 L808.57,244.58 L808.91,246.04 L809.24,247.50 L809.55,248.97 L809.87,250.44 L810.17,251.91 L810.47,253.38 L810.77,254.85 L811.06,256.32 L811.36,257.79 L811.66,259.26 L811.96,260.73 L812.27,262.20 L812.59,263.67 L812.91,265.13 L813.24,266.60 L813.59,268.06 L813.94,269.51 L814.30,270.97 L814.66,272.43 L815.03,273.88 L815.41,275.34 L815.79,276.79 L816.16,278.24 L816.54,279.69 L816.93,281.14 L817.31,282.60 L817.68,284.05 L818.06,285.50 L818.44,286.96 L818.81,288.41 L819.18,289.86 L819.54,291.32 L819.91,292.78 L820.27,294.23 L820.63,295.69 L820.98,297.15 L821.34,298.61 L821.70,300.06 L822.06,301.52 L822.43,302.98 L822.80,304.43 L823.16,305.89 L823.54,307.34 L823.91,308.80 L824.27,310.25 L824.64,311.71 L825.01,313.16 L825.37,314.62 L825.72,316.08 L826.08,317.54 L826.43,318.99 L826.78,320.45 L827.14,321.91 L827.50,323.37 L827.88,324.82 L828.26,326.27 L828.65,327.72 L829.05,329.16 L829.47,330.60 L829.89,332.04 L830.32,333.48 L830.76,334.92 L831.20,336.35 L831.65,337.78 L832.09,339.22 L832.53,340.65 L832.97,342.08 L833.39,343.52 L833.80,344.96 L834.19,346.41 L834.55,347.86 L834.89,349.31 L835.21,350.78 L835.50,352.24 L835.77,353.72 L836.03,355.19 L836.27,356.67 L836.50,358.15 L836.72,359.64 L836.94,361.12 L837.15,362.61 L837.36,364.09 L837.56,365.58 L837.77,367.07 L837.98,368.56 L838.18,370.04 L838.39,371.53 L838.60,373.01 L838.81,374.50 L839.03,375.98 L839.26,377.47 L839.51,378.95 L839.76,380.42 L840.03,381.90 L840.31,383.37 L840.59,384.84 L840.89,386.31 L841.19,387.78 L841.49,389.25 L841.79,390.72 L842.09,392.20 L842.37,393.67 L842.65,395.14 L842.92,396.62 L843.19,398.09 L843.45,399.57 L843.71,401.05 L843.98,402.52 L844.25,404.00 L844.53,405.48 L844.81,406.95 L845.11,408.42 L845.41,409.89 L845.72,411.36 L846.03,412.83 L846.34,414.29 L846.65,415.76 L846.96,417.23 L847.27,418.70 L847.57,420.17 L847.87,421.64 L848.17,423.11 L848.45,424.58 L848.74,426.06 L849.02,427.53 L849.30,429.01 L849.58,430.48 L849.85,431.96 L850.13,433.43 L850.40,434.91 L850.68,436.38 L850.97,437.86 L851.26,439.33 L851.56,440.80 L851.86,442.27 L852.18,443.73 L852.50,445.20 L852.83,446.66 L853.17,448.13 L853.51,449.59 L853.85,451.05 L854.18,452.51 L854.52,453.98 L854.85,455.44 L855.18,456.90 L855.50,458.37 L855.83,459.83 L856.15,461.30 L856.47,462.77 L856.80,464.23 L857.13,465.70 L857.46,467.16 L857.79,468.62 L858.13,470.09 L858.47,471.55 L858.81,473.01 L859.15,474.47 L859.49,475.93 L859.82,477.40 L860.15,478.86 L860.48,480.33 L860.80,481.79 L861.11,483.26 L861.41,484.73 L861.71,486.20 L862.00,487.67 L862.27,489.15 L862.54,490.62 L862.80,492.10 L863.06,493.58 L863.33,495.05 L863.59,496.53 L863.87,498.00 L864.15,499.47 L864.45,500.94 L864.77,502.41 L865.09,503.87 L865.43,505.33 L865.78,506.79 L866.13,508.25 L866.49,509.71 L866.84,511.17 L867.20,512.63 L867.54,514.09 L867.89,515.55 L868.23,517.01 L868.57,518.47 L868.90,519.93 L869.23,521.40 L869.55,522.86 L869.88,524.33 L870.21,525.79 L870.53,527.26 L870.86,528.72 L871.20,530.19 L871.54,531.65 L871.88,533.11 L872.24,534.57 L872.60,536.02 L872.98,537.47 L873.36,538.92 L873.75,540.37 L874.14,541.82 L874.54,543.27 L874.93,544.72 L875.33,546.16 L875.72,547.61 L876.11,549.06 L876.50,550.51 L876.88,551.96 L877.25,553.42 L877.62,554.87 L877.98,556.33 L878.33,557.79 L878.67,559.25 L879.01,560.71 L879.34,562.18 L879.67,563.64 L880.00,565.10 L880.32,566.57 L880.66,568.03 L880.99,569.50 L881.34,570.96 L881.69,572.42 L882.04,573.87 L882.41,575.33 L882.78,576.78 L883.15,578.24 L883.53,579.69 L883.91,581.14 L884.30,582.59 L884.68,584.04 L885.07,585.49 L885.46,586.94 L885.86,588.39 L886.25,589.84 L886.64,591.29 L887.04,592.74 L887.43,594.18 L887.82,595.63 L888.22,597.08 L888.61,598.53 L889.00,599.98 L889.40,601.43 L889.79,602.88 L890.18,604.33 L890.58,605.77 L890.97,607.22 L891.37,608.67 L891.76,610.12 L892.16,611.57 L892.56,613.01 L892.96,614.46 L893.37,615.90 L893.78,617.35 L894.19,618.79 L894.61,620.23 L895.02,621.68 L895.44,623.12 L895.85,624.56 L896.27,626.00 L896.68,627.45 L897.09,628.89 L897.50,630.33 L897.91,631.78 L898.32,633.22 L898.73,634.67 L899.14,636.11 L899.55,637.55 L899.98,638.99 L900.40,640.43 L900.84,641.87 L901.28,643.30 L901.73,644.73 L902.19,646.16 L902.65,647.59 L903.11,649.02 L903.58,650.44 L904.05,651.87 L904.53,653.29 L905.00,654.72 L905.48,656.14 L905.96,657.56 L906.44,658.98 L906.93,660.41 L907.41,661.83 L907.90,663.25 L908.39,664.66 L908.88,666.08 L909.37,667.50 L909.87,668.92 L910.36,670.33 L910.86,671.75 L911.35,673.17 L911.85,674.59 L912.34,676.00 L912.84,677.42 L913.34,678.84 L913.84,680.25 L914.35,681.66 L914.87,683.06 L915.41,684.47 L915.95,685.86 L916.52,687.25 L917.10,688.63 L917.69,690.01 L918.30,691.38 L918.93,692.74 L919.56,694.10 L920.21,695.45 L920.86,696.80 L921.53,698.15 L922.20,699.49 L922.89,700.82 L923.58,702.15 L924.28,703.48 L924.98,704.81 L925.70,706.13 L926.42,707.44 L927.15,708.75 L927.88,710.06 L928.62,711.37 L929.37,712.67 L930.12,713.97 L930.88,715.27 L931.63,716.56 L932.39,717.85 L933.15,719.15 L933.91,720.44 L934.67,721.74 L935.42,723.04 L936.18,724.34 L936.93,725.64 L937.67,726.94 L938.42,728.24 L939.18,729.54 L939.93,730.83 L940.69,732.13 L941.46,733.41 L942.24,734.69 L943.03,735.97 L943.84,737.24 L944.65,738.50 L945.47,739.75 L946.31,740.99 L947.17,742.22 L948.04,743.43 L948.93,744.63 L949.84,745.82 L950.78,746.98 L951.73,748.13 L952.71,749.27 L953.70,750.38 L954.71,751.49 L955.73,752.59 L956.75,753.69 L957.78,754.78 L958.80,755.87 L959.83,756.97 L960.86,758.06 L961.88,759.16 L962.91,760.26 L963.93,761.35 L964.96,762.45 L965.99,763.54 L967.02,764.63 L968.06,765.71 L969.11,766.77 L970.17,767.83 L971.25,768.87 L972.34,769.89 L973.45,770.89 L974.58,771.87 L975.73,772.83 L976.89,773.77 L978.07,774.70 L979.26,775.61 L980.46,776.50 L981.68,777.37 L982.91,778.22 L984.15,779.05 L985.41,779.86 L986.68,780.65 L987.97,781.42 L989.26,782.16 L990.57,782.89 L991.89,783.60 L993.22,784.29 L994.56,784.97 L995.91,785.62 L997.26,786.26 L998.62,786.88 L1000.00,787.48 L1001.38,788.07 L1002.76,788.64 L1004.15,789.20 L1005.55,789.74 L1006.96,790.26 L1008.37,790.77 L1009.78,791.26 L1011.20,791.74 L1012.63,792.20 L1014.06,792.64 L1015.50,793.07 L1016.94,793.48 L1018.39,793.88 L1019.84,794.26 L1021.29,794.62 L1022.75,794.97 L1024.21,795.30 L1025.68,795.61 L1027.15,795.90 L1028.62,796.18 L1030.10,796.45 L1031.57,796.69 L1033.06,796.93 L1034.54,797.15 L1036.02,797.35 L1037.51,797.54 L1039.00,797.72 L1040.49,797.89 L1041.98,798.06 L1043.48,798.22 L1044.97,798.37 L1046.46,798.53 L1047.96,798.68 L1049.45,798.83 L1050.94,798.98 L1052.44,799.13 L1053.93,799.28 L1055.42,799.43 L1056.92,799.57 L1058.41,799.72 L1059.91,799.87 L1061.40,800.01 L1062.89,800.15 L1064.39,800.29 L1065.88,800.43 L1067.38,800.57 L1068.87,800.70 L1070.37,800.83 L1071.86,800.96 L1073.36,801.09 L1074.86,801.21 L1076.35,801.34 L1077.85,801.46 L1079.34,801.58 L1080.84,801.69 L1082.34,801.80 L1083.83,801.90 L1085.33,802.00 L1086.83,802.08 L1088.33,802.15 L1089.83,802.22 L1091.33,802.27 L1092.83,802.32 L1094.33,802.36 L1095.83,802.39 L1097.33,802.42 L1098.83,802.45 L1100.33,802.47 L1101.83,802.49 L1103.33,802.51 L1104.83,802.53 L1106.33,802.55 L1107.83,802.57 L1109.33,802.59 L1110.84,802.60 L1112.34,802.62 L1113.84,802.64 L1115.34,802.65 L1116.84,802.67 L1118.34,802.68 L1119.84,802.70 L1121.34,802.71 L1122.84,802.73 L1124.35,802.74 L1125.85,802.76 L1127.35,802.77 L1128.85,802.79 L1130.35,802.80 L1131.85,802.81 L1133.35,802.83 L1134.85,802.84 L1136.35,802.85 L1137.85,802.87 L1139.36,802.88 L1140.86,802.89 L1142.36,802.91 L1143.86,802.92 L1145.36,802.93 L1146.86,802.94 L1148.36,802.96 L1149.86,802.97 L1151.36,802.98 L1152.87,803.00 L1154.37,803.01 L1155.87,803.02 L1157.37,803.03 L1158.87,803.05 L1160.37,803.06 L1161.87,803.07 L1163.37,803.09 L1164.87,803.10 L1166.38,803.11 L1167.88,803.12 L1169.38,803.14 L1170.88,803.15 L1172.38,803.16 L1173.88,803.18 L1175.38,803.19 L1176.88,803.20 L1178.38,803.21 L1179.88,803.23 L1181.39,803.24 L1182.89,803.25 L1184.39,803.27 L1185.89,803.28 L1187.39,803.29 L1188.89,803.30 L1190.39,803.32 L1191.89,803.33 L1193.39,803.34 L1194.90,803.36 L1196.40,803.37 L1197.90,803.38 L1199.40,803.39 L1200.90,803.40 L1202.40,803.42 L1203.90,803.43 L1205.40,803.44 L1206.90,803.45 L1208.41,803.46 L1209.91,803.47 L1211.41,803.48 L1212.91,803.49 L1214.41,803.50 L1215.91,803.51 L1217.41,803.52 L1218.91,803.54 L1220.41,803.55 L1221.92,803.56 L1223.42,803.57 L1224.92,803.58 L1226.42,803.59 L1227.92,803.60 L1229.42,803.61 L1230.92,803.62 L1232.42,803.63 L1233.92,803.64 L1235.43,803.65 L1236.93,803.66 L1238.43,803.67 L1239.93,803.69 L1241.43,803.70 L1242.93,803.71 L1244.43,803.72 L1245.93,803.73 L1247.43,803.74 L1248.94,803.75 L1250.44,803.76 L1251.94,803.77 L1253.44,803.78 L1254.94,803.79 L1256.44,803.80 L1257.94,803.81 L1259.44,803.82 L1260.94,803.83 L1262.45,803.85 L1263.95,803.86 L1265.45,803.87 L1266.95,803.88 L1268.45,803.88 L1269.95,803.89 L1271.45,803.90 L1272.95,803.91 L1274.45,803.92 L1275.96,803.93 L1277.46,803.93 L1278.96,803.94 L1280.46,803.95 L1281.96,803.95 L1283.46,803.96 L1284.96,803.97 L1286.46,803.97 L1287.96,803.98 L1289.47,803.99 L1290.97,804.00 L1292.47,804.00 L1293.97,804.01 L1295.47,804.02 L1296.97,804.02 L1298.47,804.03 L1299.97,804.04 L1301.47,804.04 L1302.98,804.05 L1304.48,804.06 L1305.98,804.06 L1307.48,804.07 L1308.98,804.08 L1310.48,804.08 L1311.98,804.09 L1313.48,804.10 L1314.98,804.10 L1316.48,804.11 L1317.98,804.12 L1319.48,804.12 L1320.98,804.13 L1322.47,804.14 L1323.94,804.15 L1325.40,804.15 L1326.82,804.16 L1328.20,804.16 L1329.50,804.17 L1330.72,804.18 L1331.82,804.18 L1332.79,804.19 L1336.00,804.20" fill="none" stroke="#000" stroke-width="7.4" stroke-linejoin="round" stroke-linecap="butt"/>
<text transform="translate(219.57,881.00) scale(0.9800,1.0000)" font-size="43.50" text-anchor="start">250</text>
<text transform="translate(435.82,881.00) scale(0.9800,1.0000)" font-size="43.50" text-anchor="start">300</text>
<text transform="translate(651.82,881.00) scale(0.9800,1.0000)" font-size="43.50" text-anchor="start">350</text>
<text transform="translate(867.99,881.00) scale(0.9800,1.0000)" font-size="43.50" text-anchor="start">400</text>
<text transform="translate(1083.99,881.00) scale(0.9800,1.0000)" font-size="43.50" text-anchor="start">450</text>
<text transform="translate(1299.66,881.00) scale(0.9800,1.0000)" font-size="43.50" text-anchor="start">500</text>
<text transform="translate(205.54,816.10) scale(0.9800,1.0000)" font-size="43.50" text-anchor="start">0</text>
<text transform="translate(110.70,641.20) scale(0.9800,1.0000)" font-size="43.50" text-anchor="start">10000</text>
<text transform="translate(110.70,466.30) scale(0.9800,1.0000)" font-size="43.50" text-anchor="start">20000</text>
<text transform="translate(110.70,291.40) scale(0.9800,1.0000)" font-size="43.50" text-anchor="start">30000</text>
<text transform="translate(110.70,116.50) scale(0.9800,1.0000)" font-size="43.50" text-anchor="start">40000</text>
<line x1="1028.3" y1="109.5" x2="1135.5" y2="109.5" stroke="#000" stroke-width="7.6" stroke-linecap="butt"/>
<line x1="1032.5" y1="163.9" x2="1131.5" y2="163.9" stroke="#ff0000" stroke-width="9.4" stroke-linecap="round"/>
<text transform="translate(1144.41,124.90) scale(0.9200,1.0000)" font-size="47.00" text-anchor="start">Flu-MS</text>
<text transform="translate(1144.41,178.80) scale(0.9200,1.0000)" font-size="47.00" text-anchor="start">Flu-PS</text>
<text transform="translate(531.74,951.50) scale(0.9429,1.0000)" font-size="63.70" text-anchor="start">Wavelength (nm)</text>
<g transform="translate(80.80,537.80) rotate(-90)">
<text transform="translate(-1.24,0.00) scale(0.980,1)" style="font-size:52.0px;font-weight:normal;stroke:#000;stroke-width:1px">ε</text>
<text transform="translate(41.56,-0.80) scale(0.750,1)" style="font-size:60.0px;font-weight:bold">(</text>
<text transform="translate(60.61,0.00) scale(0.950,1)" style="font-size:66.0px;font-weight:bold">M</text>
<text transform="translate(112.38,-34.50) scale(1.000,1)" style="font-size:38.8px;font-weight:bold">-</text>
<text transform="translate(146.39,0.00) scale(0.970,1)" style="font-size:61.0px;font-weight:bold">c</text>
<text transform="translate(180.28,0.00) scale(1.000,1)" style="font-size:61.0px;font-weight:bold">m</text>
<text transform="translate(237.08,-34.50) scale(1.000,1)" style="font-size:38.8px;font-weight:bold">-</text>
<text transform="translate(272.66,-0.80) scale(0.750,1)" style="font-size:60.0px;font-weight:bold">)</text>
<path d="M135.05,-60.90 h5.3 v26.8 h-5.3 Z M135.20,-60.90 L127.80,-54.40 L127.80,-49.30 L135.20,-54.70 Z" fill="#000"/>
<path d="M258.05,-60.90 h5.3 v26.8 h-5.3 Z M258.20,-60.90 L250.80,-54.40 L250.80,-49.30 L258.20,-54.70 Z" fill="#000"/>
</g>
</svg>
</body></html>
